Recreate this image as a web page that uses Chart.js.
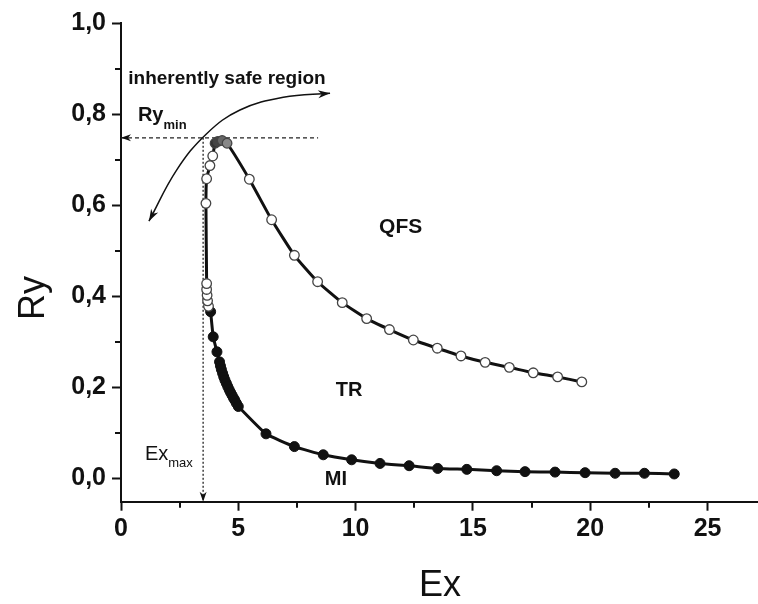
<!DOCTYPE html>
<html>
<head>
<meta charset="utf-8">
<script src="https://cdn.jsdelivr.net/npm/chart.js@4.4.1/dist/chart.umd.min.js"></script>
<style>
  body { margin: 0; background: #fff; }
  canvas { display: block; }
</style>
</head>
<body>
<canvas id="myChart" width="758" height="604"></canvas>
<script>
// QFS branch (open circles), ordered along the curve
const qfsEx = [3.73, 3.69, 3.67, 3.65, 3.65, 3.62, 3.65, 3.79, 3.91, 4.01, 4.13, 4.31, 4.52,
  5.47, 6.42, 7.39, 8.38, 9.43, 10.47, 11.44, 12.46, 13.48, 14.49, 15.52, 16.55, 17.57, 18.61, 19.64];
const qfsRy = [0.378, 0.390, 0.402, 0.415, 0.428, 0.604, 0.658, 0.687, 0.708, 0.736, 0.740, 0.742, 0.736,
  0.657, 0.568, 0.490, 0.432, 0.386, 0.351, 0.327, 0.304, 0.286, 0.269, 0.255, 0.244, 0.232, 0.223, 0.212];
// points at the top of the curve that are drawn shaded
const qfsPeak = [9, 10, 11, 12];

// MI branch (filled circles)
const miEx = [3.82, 3.93, 4.09, 4.20, 4.24, 4.28, 4.33, 4.38, 4.43, 4.49, 4.55, 4.61, 4.67, 4.73, 4.79, 4.85, 4.92, 5.00,
  6.18, 7.39, 8.62, 9.83, 11.04, 12.28, 13.50, 14.74, 16.01, 17.22, 18.50, 19.78, 21.06, 22.31, 23.58];
const miRy = [0.366, 0.311, 0.278, 0.256, 0.247, 0.239, 0.231, 0.223, 0.216, 0.209, 0.202, 0.195, 0.189, 0.183, 0.177, 0.172, 0.165, 0.158,
  0.098, 0.070, 0.052, 0.041, 0.033, 0.028, 0.022, 0.020, 0.017, 0.015, 0.014, 0.0127, 0.0114, 0.0114, 0.0099];

// curved arrow "inherently safe region"
const arcEx = [1.19, 2.37, 3.65, 5.07, 6.92, 8.91];
const arcRy = [0.565, 0.677, 0.757, 0.809, 0.837, 0.846];

// limits
const ryMin = 0.748;
const ryMinEnd = 8.40;
const exMax = 3.50;

// axes
const xMin = 0, xMax = 27.15, xStep = 5;
const yMin = -0.051, yMax = 1.0, yStep = 0.2;

const toPoints = (xs, ys) => xs.map((v, i) => ({ x: v, y: ys[i] }));

const FONT = '"Liberation Sans", Arial, sans-serif';
const INK = '#111';

function arrowHead(ctx, fx, fy, tx, ty, len, half) {
  const a = Math.atan2(ty - fy, tx - fx);
  ctx.save();
  ctx.translate(tx, ty);
  ctx.rotate(a);
  ctx.beginPath();
  ctx.moveTo(0, 0);
  ctx.lineTo(-len, -half);
  ctx.lineTo(-len * 0.7, 0);
  ctx.lineTo(-len, half);
  ctx.closePath();
  ctx.fillStyle = INK;
  ctx.fill();
  ctx.restore();
}

function subText(ctx, x, y, main, sub, size, subSize, weight, drop) {
  ctx.font = weight + ' ' + size + 'px ' + FONT;
  ctx.fillText(main, x, y);
  const w = ctx.measureText(main).width;
  ctx.font = weight + ' ' + subSize + 'px ' + FONT;
  ctx.fillText(sub, x + w, y + drop);
}

const annotate = {
  id: 'annotate',
  afterDatasetsDraw(chart) {
    const { ctx } = chart;
    const x = chart.scales.x, y = chart.scales.y;
    const px = v => x.getPixelForValue(v);
    const py = v => y.getPixelForValue(v);

    // arrow heads
    arrowHead(ctx, px(1), py(ryMin), px(0), py(ryMin), 10, 3.5);
    arrowHead(ctx, px(exMax), py(0.05), px(exMax), py(yMin), 10, 3.5);
    const n = arcEx.length;
    arrowHead(ctx, px(arcEx[n - 2]), py(arcRy[n - 2]), px(arcEx[n - 1]), py(arcRy[n - 1]), 12, 4);
    arrowHead(ctx, px(arcEx[1]), py(arcRy[1]), px(arcEx[0]), py(arcRy[0]), 12, 4);

    // labels
    ctx.save();
    ctx.fillStyle = INK;
    ctx.textBaseline = 'alphabetic';
    ctx.textAlign = 'left';
    ctx.font = 'bold 19px ' + FONT;
    ctx.fillText('inherently safe region', px(0.31), py(0.865));
    subText(ctx, px(0.72), py(0.785), 'Ry', 'min', 20, 13, 'bold', 8);
    subText(ctx, px(1.02), py(0.041), 'Ex', 'max', 20, 13, 'normal', 7);

    ctx.textAlign = 'center';
    ctx.font = 'bold 21px ' + FONT;
    ctx.fillText('QFS', px(11.92), py(0.538));
    ctx.font = 'bold 20px ' + FONT;
    ctx.fillText('TR', px(9.72), py(0.181));
    ctx.fillText('MI', px(9.16), py(-0.015));
    ctx.restore();
  },
  afterDraw(chart) {
    const { ctx } = chart;
    const x = chart.scales.x, y = chart.scales.y;
    ctx.save();
    ctx.strokeStyle = INK;
    ctx.lineWidth = 2;
    // minor ticks
    ctx.beginPath();
    for (let v = xStep / 2; v <= xMax; v += xStep) {
      const p = Math.round(x.getPixelForValue(v));
      ctx.moveTo(p, x.top);
      ctx.lineTo(p, x.top + 6);
    }
    for (let v = yStep / 2; v < yMax; v += yStep) {
      const p = Math.round(y.getPixelForValue(v));
      ctx.moveTo(y.right - 6, p);
      ctx.lineTo(y.right, p);
    }
    ctx.stroke();

    // axis titles
    ctx.fillStyle = INK;
    ctx.font = '36px ' + FONT;
    ctx.textAlign = 'center';
    ctx.textBaseline = 'alphabetic';
    ctx.fillText('Ex', 440, 596);
    ctx.translate(44, 298);
    ctx.rotate(-Math.PI / 2);
    ctx.fillText('Ry', 0, 0);
    ctx.restore();
  }
};

const openFill = ctx => qfsPeak.includes(ctx.dataIndex) ? ['#333', '#444', '#666', '#888'][qfsPeak.indexOf(ctx.dataIndex)] : '#fff';

new Chart(document.getElementById('myChart'), {
  type: 'scatter',
  data: {
    datasets: [
      {
        label: 'QFS',
        data: toPoints(qfsEx, qfsRy),
        showLine: true,
        borderColor: INK,
        borderWidth: 3,
        tension: 0.15,
        pointRadius: 4.8,
        pointBackgroundColor: openFill,
        pointBorderColor: '#444',
        pointBorderWidth: 1.3,
        clip: false
      },
      {
        label: 'MI',
        data: toPoints(miEx, miRy),
        showLine: true,
        borderColor: INK,
        borderWidth: 3,
        tension: 0.15,
        pointRadius: 5,
        pointBackgroundColor: INK,
        pointBorderColor: INK,
        pointBorderWidth: 1,
        clip: false
      },
      {
        label: 'arc',
        data: toPoints(arcEx, arcRy),
        showLine: true,
        borderColor: INK,
        borderWidth: 1.5,
        tension: 0.4,
        pointRadius: 0,
        clip: false
      },
      {
        label: 'Ry min',
        data: [{ x: xMin, y: ryMin }, { x: ryMinEnd, y: ryMin }],
        showLine: true,
        borderColor: '#222',
        borderWidth: 1.2,
        borderDash: [4, 3],
        pointRadius: 0,
        clip: false
      },
      {
        label: 'Ex max',
        data: [{ x: exMax, y: ryMin }, { x: exMax, y: yMin }],
        showLine: true,
        borderColor: '#222',
        borderWidth: 1.3,
        borderDash: [2, 2],
        pointRadius: 0,
        clip: false
      }
    ]
  },
  options: {
    responsive: false,
    devicePixelRatio: 1,
    animation: false,
    layout: { autoPadding: false, padding: { top: 23, right: 0, bottom: 0, left: 0 } },
    plugins: {
      legend: { display: false },
      tooltip: { enabled: false }
    },
    scales: {
      x: {
        type: 'linear',
        min: xMin,
        max: xMax,
        afterFit: s => { s.height = 102.3; },
        ticks: {
          stepSize: xStep,
          includeBounds: false,
          color: INK,
          padding: 3,
          font: { family: FONT, size: 25, weight: 'bold' }
        },
        grid: { drawOnChartArea: false, tickLength: 9, tickWidth: 2, tickColor: INK },
        border: { color: INK, width: 2 }
      },
      y: {
        type: 'linear',
        min: yMin,
        max: yMax,
        afterFit: s => { s.width = 121; },
        ticks: {
          stepSize: yStep,
          includeBounds: false,
          color: INK,
          padding: 6,
          font: { family: FONT, size: 25, weight: 'bold' },
          callback: v => v.toFixed(1).replace('.', ',')
        },
        grid: { drawOnChartArea: false, tickLength: 9, tickWidth: 2, tickColor: INK },
        border: { color: INK, width: 2 }
      }
    }
  },
  plugins: [annotate]
});
</script>
</body>
</html>
